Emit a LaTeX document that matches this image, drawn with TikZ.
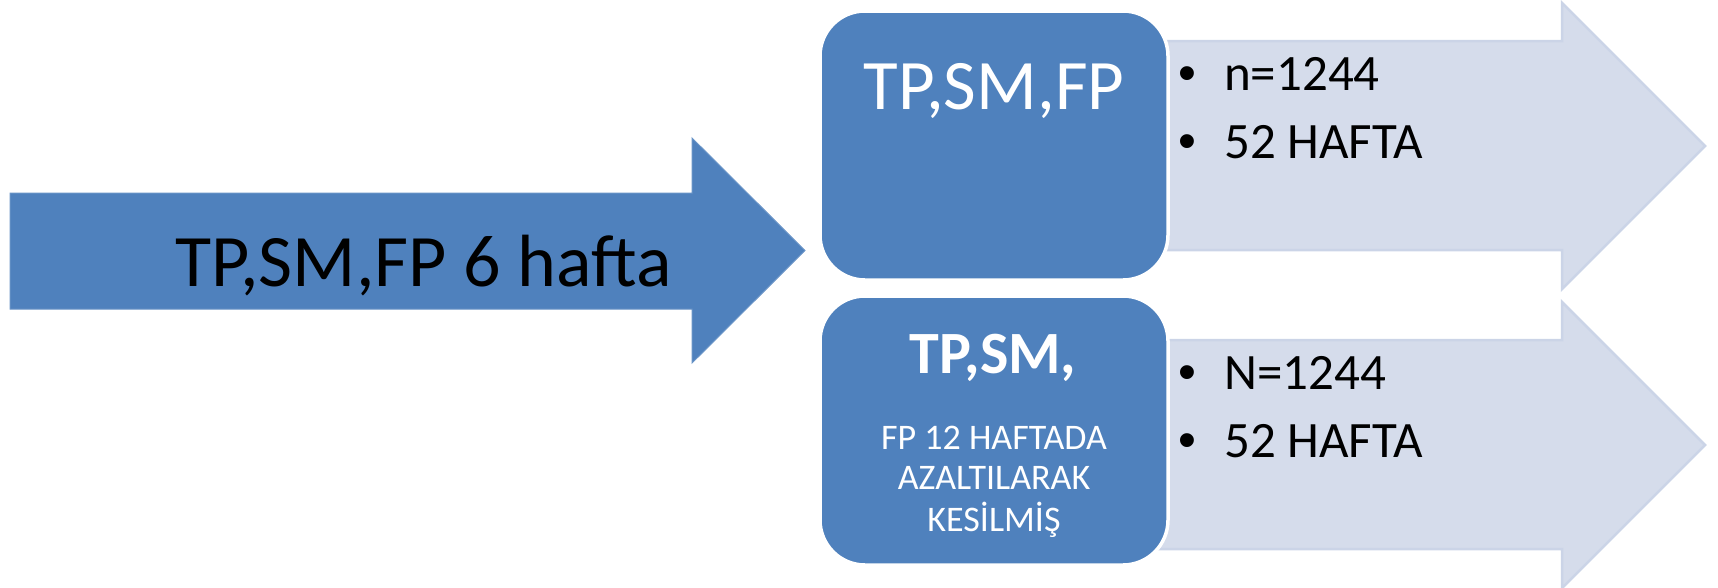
\documentclass[tikz,border=0pt]{standalone}
\usepackage{fontspec}
\setmainfont{Carlito}
\newfontfamily\bulletfont{Liberation Sans}
\definecolor{accent}{HTML}{4F81BD}
\definecolor{pale}{HTML}{D5DCEB}
\definecolor{paleedge}{HTML}{CBD4E7}
\tikzset{
  bluearrow/.style={fill=accent, draw=accent!85!white, line width=1pt, line join=miter},
  palearrow/.style={fill=pale, draw=paleedge, line width=2.5pt, line join=miter},
  stagebox/.style={fill=accent, draw=white, line width=3.5pt, rounded corners=45pt},
  bigtext/.style={inner sep=0pt, font=\fontsize{74}{80}\selectfont, text=black},
  boxtitle/.style={inner sep=0pt, text=white},
  smalltext/.style={inner sep=0pt, text=white, font=\fontsize{36}{41}\selectfont},
  itemtext/.style={inner sep=0pt, text=black, font=\fontsize{51}{60}\selectfont},
  itemdot/.style={inner sep=0pt, text=black, font=\bulletfont\fontsize{51}{60}\selectfont}
}
\begin{document}
\begin{tikzpicture}[x=1pt, y=-1pt]
  \path[use as bounding box] (0,0) rectangle (1718,587);
  \clip (0,0) rectangle (1718,587);

  % pale result arrows (drawn first, they run under the boxes)
  \path[palearrow] (1150,41) -- (1562,41) -- (1562,3) -- (1705,146)
                   -- (1562,289) -- (1562,250) -- (1150,250) -- cycle;
  \path[palearrow] (1150,340) -- (1562,340) -- (1562,302) -- (1705,445)
                   -- (1562,588) -- (1562,549) -- (1150,549) -- cycle;

  % lead-in arrow
  \path[bluearrow] (10,193) -- (692,193) -- (692,138) -- (805,250.5)
                   -- (692,363) -- (692,309) -- (10,309) -- cycle;
  \node[bigtext, anchor=base east] (lead) at (672,286) {TP,SM,FP 6 hafta};

  % treatment boxes
  \path[stagebox] (820,11) rectangle (1168,280);
  \path[stagebox] (820,296) rectangle (1168,565);

  \node[boxtitle, anchor=base, font=\fontsize{71}{80}\selectfont] (armA) at (994,109) {TP,SM,FP};
  \node[boxtitle, anchor=base, font=\bfseries\fontsize{60}{70}\selectfont] (armB) at (993,373) {TP,SM,};
  \node[smalltext, anchor=base] (armBa) at (994,449) {FP 12 HAFTADA};
  \node[smalltext, anchor=base] (armBb) at (994,489) {AZALTILARAK};
  \node[smalltext, anchor=base] (armBc) at (994,531) {KESİLMİŞ};

  % outcome items, upper arm
  \node[itemdot, anchor=base] (dA1) at (1187,90) {•};
  \node[itemtext, anchor=base west] (tA1) at (1224,90) {n=1244};
  \node[itemdot, anchor=base] (dA2) at (1187,158) {•};
  \node[itemtext, anchor=base west] (tA2) at (1224,158) {52 HAFTA};

  % outcome items, lower arm
  \node[itemdot, anchor=base] (dB1) at (1187,389) {•};
  \node[itemtext, anchor=base west] (tB1) at (1224,389) {N=1244};
  \node[itemdot, anchor=base] (dB2) at (1187,457) {•};
  \node[itemtext, anchor=base west] (tB2) at (1224,457) {52 HAFTA};
\end{tikzpicture}
\end{document}
